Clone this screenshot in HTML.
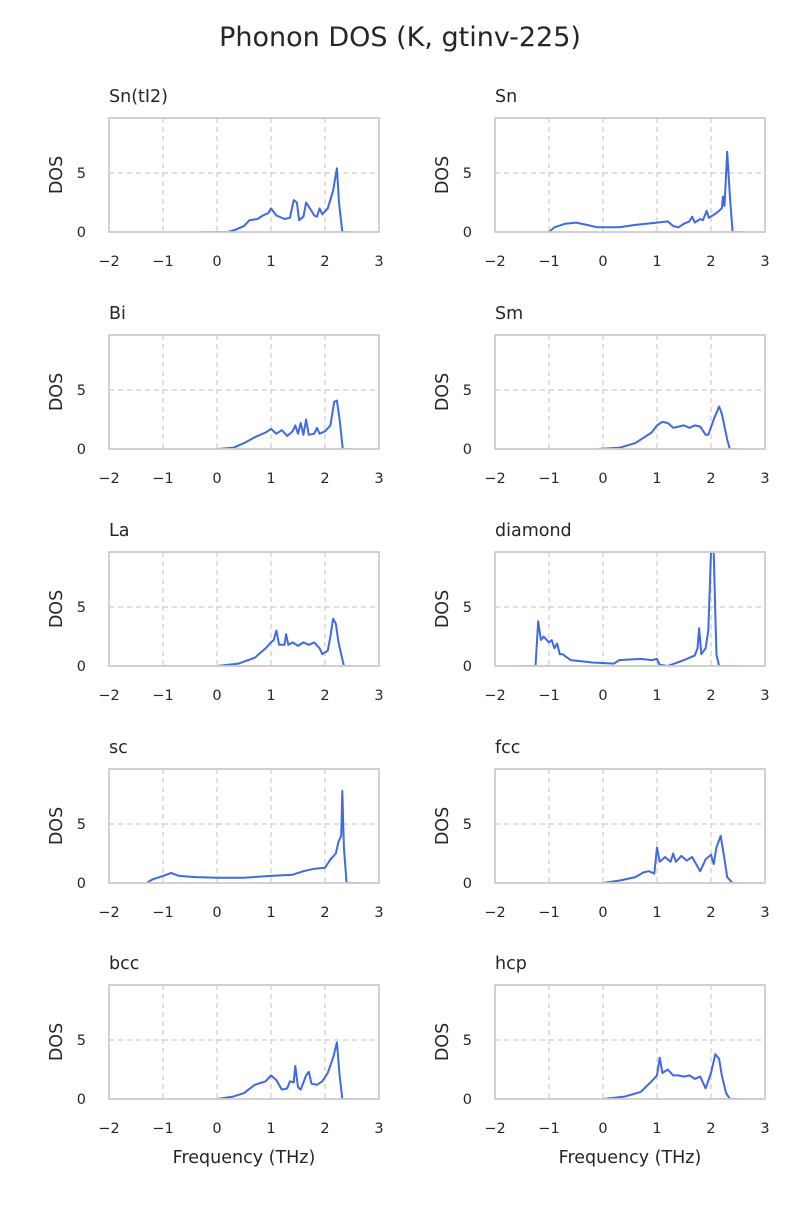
<!DOCTYPE html>
<html><head><meta charset="utf-8"><style>
body{margin:0;background:#fff}
svg{font-family:"DejaVu Sans","Liberation Sans",sans-serif}
</style></head><body>
<svg id="chart" width="800" height="1200" viewBox="0 0 800 1200">
<text x="400" y="46" text-anchor="middle" font-size="27" fill="#262626">Phonon DOS (K, gtinv-225)</text>
</svg>
<script>
const panelNames=["Sn(tI2)","Sn","Bi","Sm","La","diamond","sc","fcc","bcc","hcp"];
const xTicks=[-2,-1,0,1,2,3];
const xTickLabels=["\u22122","\u22121","0","1","2","3"];
const yTicks=[0,5];
const xDomain=[-2,3];
const yDomain=[0,9.66];
const dosSnTI2=[[-0.3,0],[0.2,0],[0.35,0.2],[0.5,0.5],[0.6,1.0],[0.75,1.1],[0.85,1.4],[0.95,1.6],[1.0,2.0],[1.1,1.4],[1.25,1.1],[1.35,1.2],[1.42,2.7],[1.48,2.5],[1.52,1.0],[1.6,1.3],[1.65,2.5],[1.72,2.0],[1.8,1.4],[1.85,1.3],[1.9,2.0],[1.95,1.5],[2.05,2.0],[2.15,3.5],[2.22,5.4],[2.26,2.5],[2.32,0],[2.5,0]];
const dosSn=[[-1.0,0],[-0.9,0.4],[-0.7,0.7],[-0.5,0.8],[-0.3,0.6],[-0.1,0.4],[0.3,0.4],[0.6,0.6],[1.0,0.8],[1.2,0.9],[1.3,0.5],[1.4,0.4],[1.5,0.7],[1.6,0.9],[1.65,1.3],[1.7,0.8],[1.8,1.1],[1.85,1.0],[1.92,1.8],[1.96,1.2],[2.1,1.6],[2.2,2.0],[2.22,3.0],[2.25,2.2],[2.3,6.8],[2.35,3.0],[2.4,0],[2.6,0]];
const dosBi=[[0,0],[0.3,0.1],[0.5,0.5],[0.7,1.0],[0.9,1.4],[1.0,1.7],[1.1,1.3],[1.2,1.6],[1.3,1.1],[1.4,1.5],[1.45,2.0],[1.5,1.3],[1.55,2.2],[1.6,1.2],[1.65,2.5],[1.7,1.2],[1.8,1.3],[1.85,1.8],[1.9,1.3],[2.0,1.5],[2.1,2.0],[2.17,4.0],[2.22,4.1],[2.27,2.5],[2.33,0],[2.5,0]];
const dosSm=[[-0.1,0],[0.3,0.1],[0.6,0.5],[0.9,1.4],[1.0,2.0],[1.1,2.3],[1.2,2.2],[1.3,1.8],[1.4,1.9],[1.5,2.0],[1.6,1.8],[1.7,2.0],[1.8,1.9],[1.9,1.2],[1.95,1.2],[2.05,2.5],[2.15,3.6],[2.2,3.0],[2.3,0.8],[2.35,0],[2.5,0]];
const dosLa=[[0,0],[0.4,0.2],[0.7,0.7],[0.9,1.5],[1.0,2.0],[1.05,2.2],[1.1,3.0],[1.15,1.8],[1.25,1.8],[1.28,2.7],[1.32,1.8],[1.4,2.0],[1.5,1.7],[1.6,2.0],[1.7,1.8],[1.8,2.0],[1.9,1.5],[1.95,1.0],[2.05,1.3],[2.1,2.5],[2.15,4.0],[2.2,3.6],[2.25,2.0],[2.35,0],[2.5,0]];
const dosDiamond=[[-1.6,0],[-1.25,0],[-1.2,3.8],[-1.15,2.2],[-1.1,2.5],[-1.0,2.0],[-0.95,2.2],[-0.9,1.5],[-0.85,1.9],[-0.8,1.0],[-0.75,1.0],[-0.6,0.5],[-0.4,0.4],[-0.2,0.3],[0.2,0.2],[0.3,0.5],[0.7,0.6],[0.9,0.5],[1.0,0.6],[1.05,0.1],[1.2,0],[1.5,0.5],[1.7,0.9],[1.75,1.5],[1.78,3.2],[1.82,1.0],[1.9,1.5],[1.95,3.0],[2.0,9.7],[2.05,9.7],[2.1,1.0],[2.15,0],[2.5,0]];
const dosSc=[[-1.3,0],[-1.2,0.3],[-1.0,0.6],[-0.85,0.85],[-0.7,0.6],[-0.4,0.5],[0,0.45],[0.5,0.45],[1.0,0.6],[1.4,0.7],[1.6,1.0],[1.8,1.2],[2.0,1.3],[2.1,2.0],[2.2,2.5],[2.25,3.5],[2.3,4.0],[2.32,7.8],[2.35,3.0],[2.4,0],[2.6,0]];
const dosFcc=[[0,0],[0.3,0.2],[0.6,0.5],[0.75,0.9],[0.85,1.0],[0.95,0.8],[1.0,3.0],[1.05,1.8],[1.15,2.2],[1.25,1.8],[1.3,2.5],[1.35,1.8],[1.45,2.3],[1.55,1.9],[1.65,2.2],[1.75,1.4],[1.8,1.0],[1.9,2.0],[2.0,2.4],[2.05,1.6],[2.1,3.0],[2.18,4.0],[2.25,2.0],[2.3,0.5],[2.4,0],[2.5,0]];
const dosBcc=[[0,0],[0.3,0.2],[0.5,0.5],[0.7,1.2],[0.9,1.5],[1.0,2.0],[1.1,1.6],[1.2,0.8],[1.3,0.9],[1.35,1.5],[1.42,1.4],[1.45,2.8],[1.5,1.0],[1.55,0.8],[1.65,2.0],[1.7,2.3],[1.75,1.3],[1.85,1.2],[1.95,1.5],[2.05,2.2],[2.15,3.5],[2.22,4.8],[2.27,2.0],[2.32,0],[2.5,0]];
const dosHcp=[[0,0],[0.4,0.2],[0.7,0.6],[0.9,1.5],[1.0,2.0],[1.05,3.5],[1.1,2.2],[1.2,2.5],[1.3,2.0],[1.4,2.0],[1.5,1.9],[1.6,2.0],[1.7,1.7],[1.8,1.9],[1.9,0.9],[2.0,2.2],[2.08,3.8],[2.15,3.4],[2.2,2.0],[2.28,0.5],[2.35,0],[2.5,0]];
const panelSeries=[dosSnTI2,dosSn,dosBi,dosSm,dosLa,dosDiamond,dosSc,dosFcc,dosBcc,dosHcp];

const NS="http://www.w3.org/2000/svg";
const svg=document.getElementById('chart');
const lefts=[109,495], tops=[118,335,552,769,985], W=270, H=114;
function mk(tag,attrs,parent){const e=document.createElementNS(NS,tag);for(const k in attrs)e.setAttribute(k,attrs[k]);(parent||svg).appendChild(e);return e;}
panelNames.forEach((name,i)=>{
  const L=lefts[i%2], T=tops[Math.floor(i/2)];
  const sx=v=>L+(v-xDomain[0])/(xDomain[1]-xDomain[0])*W;
  const sy=v=>T+H-(Math.min(v,yDomain[1])-yDomain[0])/(yDomain[1]-yDomain[0])*H;
  const g=mk('g',{});
  
  
  xTicks.forEach((t,j)=>{
    if(t>xDomain[0]&&t<xDomain[1]){const l=mk('line',{x1:sx(t),x2:sx(t),y1:T,y2:T+H,stroke:'#cccccc','stroke-dasharray':'5,4','stroke-width':1.2},g);
      
      }
    const tl=mk('text',{x:sx(t),y:T+H+34,'text-anchor':'middle','font-size':14.5,fill:'#262626'},g);
    tl.textContent=xTickLabels[j];
    
    
  });
  yTicks.forEach(t=>{
    if(t>yDomain[0]){const l=mk('line',{x1:L,x2:L+W,y1:sy(t),y2:sy(t),stroke:'#cccccc','stroke-dasharray':'5,4','stroke-width':1.2},g);
      
      }
    const tl=mk('text',{x:L-23,y:sy(t)+5,'text-anchor':'end','font-size':14.5,fill:'#262626'},g);
    tl.textContent=t;
    
    
  });
  const d=panelSeries[i].map((p,k)=>(k?'L':'M')+sx(p[0]).toFixed(1)+','+sy(p[1]).toFixed(1)).join('');
  const cp=mk('clipPath',{id:'clip'+i},g); mk('rect',{x:L,y:T,width:W,height:H},cp);
  const path=mk('path',{d:d,fill:'none',stroke:'#4169e1','stroke-width':2,'stroke-linejoin':'round','clip-path':'url(#clip'+i+')'},g);
  
  
  const fr=mk('rect',{x:L,y:T,width:W,height:H,fill:'none',stroke:'#cccccc','stroke-width':1.8},g);
  
  
  const ti=mk('text',{x:L,y:T-16,'font-size':17.5,fill:'#262626'},g);
  ti.textContent=name;
  
  
  const yl=mk('text',{x:0,y:0,'text-anchor':'middle','font-size':17.5,fill:'#262626',transform:'translate('+(L-47)+','+(T+H/2)+') rotate(-90)'},g);
  yl.textContent='DOS';
  
  
  if(Math.floor(i/2)===4){
    const xl=mk('text',{x:L+W/2,y:T+H+64,'text-anchor':'middle','font-size':17.5,fill:'#262626'},g);
    xl.textContent='Frequency (THz)';
    
    
  }
});
</script>
</body></html>
